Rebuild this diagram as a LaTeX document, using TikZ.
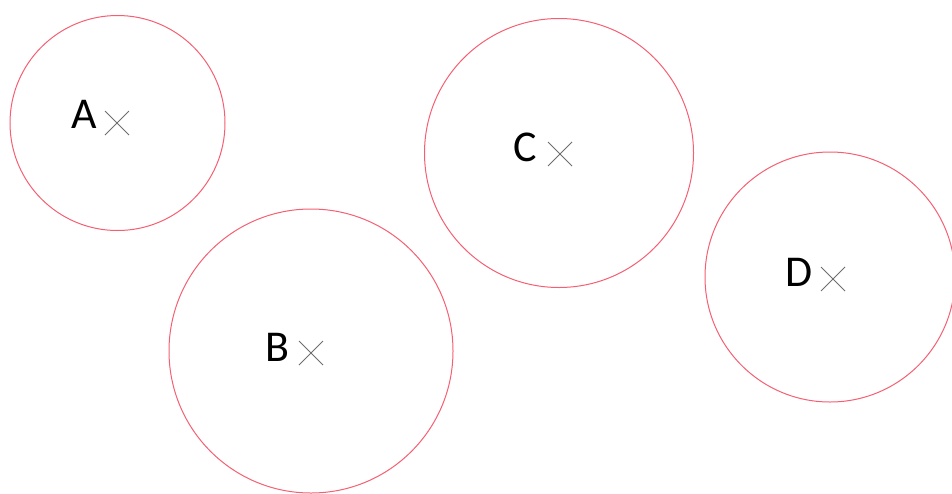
\documentclass[tikz,border=0pt]{standalone}
\usepackage{fontspec}
\setmainfont{Carlito}
\definecolor{ringcol}{RGB}{245,95,115}
\definecolor{crosscol}{RGB}{110,110,110}
\begin{document}
\begin{tikzpicture}[x=1pt,y=-1pt,
  ring/.style={draw=ringcol,line width=1pt,circle,inner sep=0pt},
  lab/.style={font=\fontsize{44}{44}\selectfont,inner sep=0pt,anchor=center},
  xmark/.style={draw=crosscol,line width=0.9pt}]
\useasboundingbox (0,0) rectangle (952,493);
\node[ring,minimum size=215pt] (ca) at (117.5,123) {};
\node[ring,minimum size=284pt] (cb) at (311,351) {};
\node[ring,minimum size=269pt] (cc) at (559,153) {};
\node[ring,minimum size=250pt] (cd) at (830,277) {};
\foreach \n/\x/\y in {a/117/123,b/311/353,c/560/154,d/833/279}{
  \coordinate (x\n) at (\x,\y);
  \draw[xmark] ([shift={(-12,-12)}]x\n) -- ([shift={(12,12)}]x\n);
  \draw[xmark] ([shift={(-12,12)}]x\n) -- ([shift={(12,-12)}]x\n);
}
\node[lab] (la) at (84.5,114) {A};
\node[lab] (lb) at (277,347) {B};
\node[lab] (lc) at (525,147) {C};
\node[lab] (ld) at (799,272) {D};
\end{tikzpicture}
\end{document}
